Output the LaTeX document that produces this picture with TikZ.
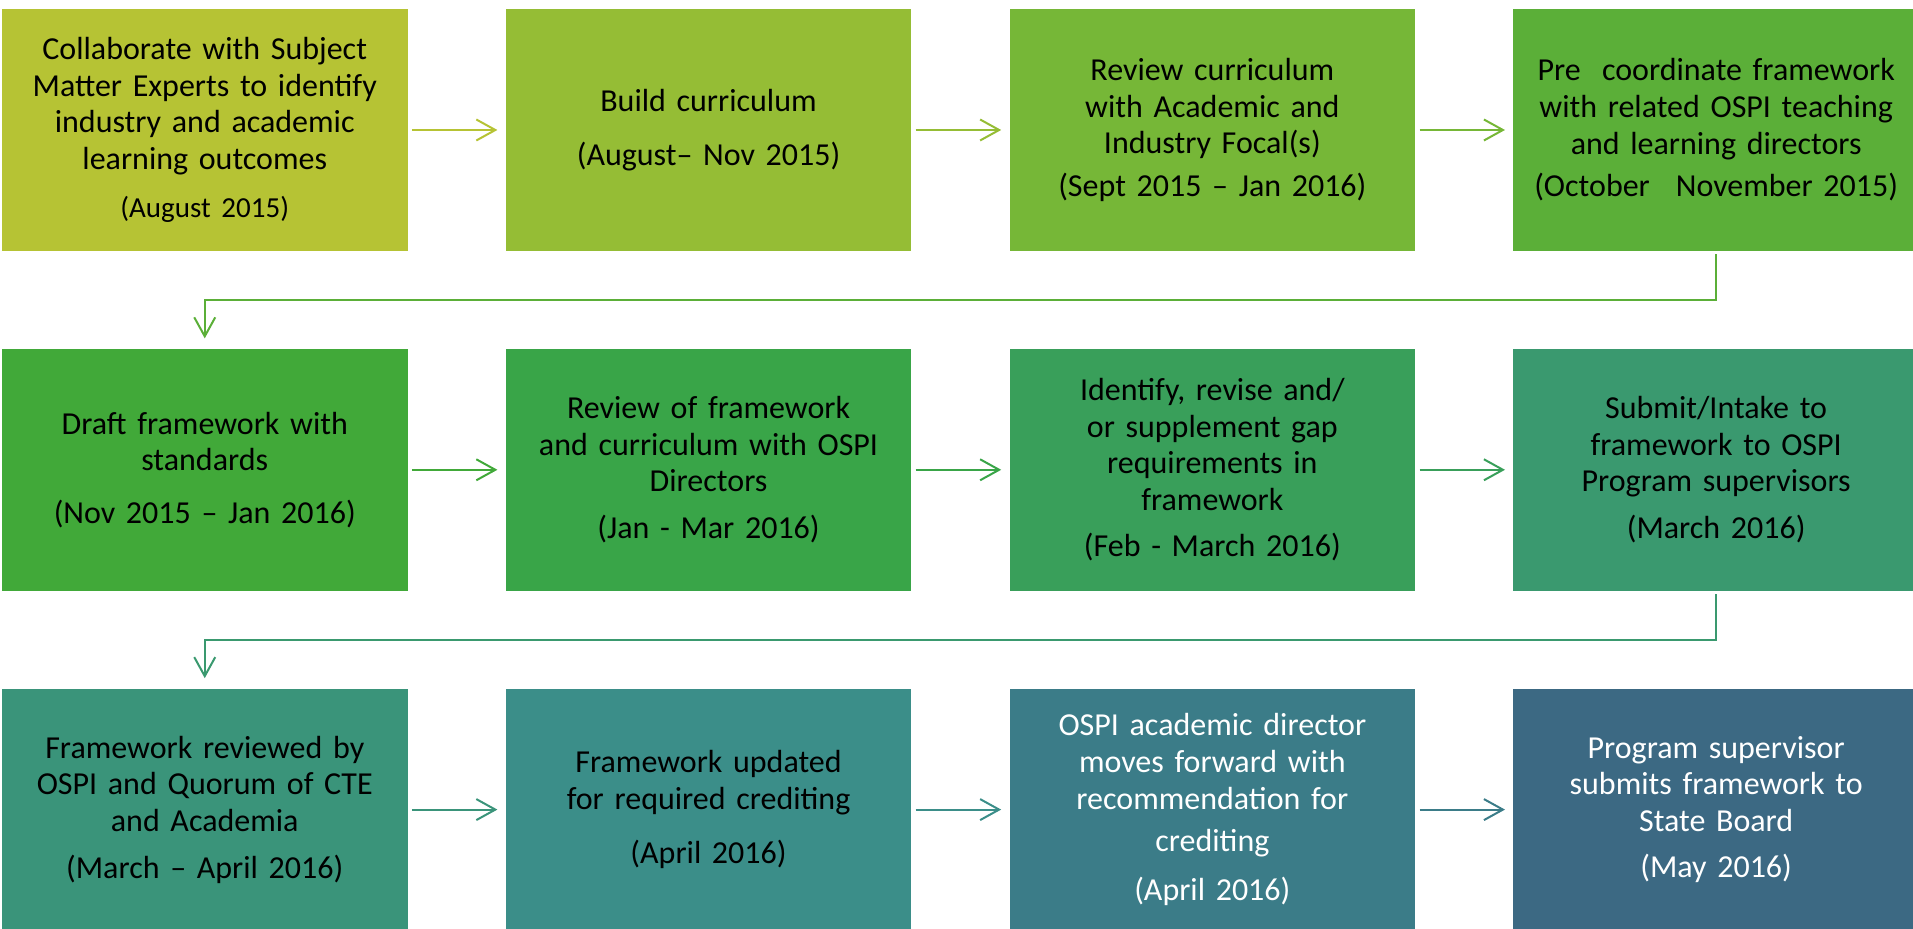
\documentclass[tikz,border=0pt]{standalone}
\usepackage{fontspec}
\setmainfont{Carlito}
\usepackage{xcolor}
\usepackage{tikz}
\usetikzlibrary{positioning,arrows.meta}
\definecolor{toneA}{HTML}{B6C334}
\definecolor{toneB}{HTML}{95BD35}
\definecolor{toneC}{HTML}{76B737}
\definecolor{toneD}{HTML}{5BAF38}
\definecolor{toneE}{HTML}{41A939}
\definecolor{toneF}{HTML}{39A548}
\definecolor{toneG}{HTML}{399F5A}
\definecolor{toneH}{HTML}{3A996F}
\definecolor{toneI}{HTML}{3A947A}
\definecolor{toneJ}{HTML}{3B8E89}
\definecolor{toneK}{HTML}{3B7C88}
\definecolor{toneL}{HTML}{3C6983}

\begin{document}
\begin{tikzpicture}[
    node distance=48.5pt and 48.75pt,
    stage/.style={rectangle, inner sep=4pt,
                  minimum width=202.75pt, minimum height=121pt,
                  text width=192pt, align=center,
                  font=\fontsize{16pt}{18.3pt}\selectfont},
    flow/.style={-{Straight Barb[length=9.5pt,width=10.5pt]}, line width=1pt,
                 shorten <=2pt, shorten >=4pt},
    turn/.style={flow, shorten <=1.5pt, shorten >=5pt}
]
\useasboundingbox (-102.375pt,65pt) rectangle (854.125pt,-399.5pt);

% first row
\node[stage, fill=toneA] (collab) {Collaborate with Subject\\Matter Experts to identify\\industry and academic\\learning outcomes\\[6pt]{\fontsize{14.5pt}{17pt}\selectfont (August 2015)}};
\node[stage, fill=toneB, right=of collab] (build) {Build curriculum\\[9pt](August-- Nov 2015)};
\node[stage, fill=toneC, right=of build] (review) {Review curriculum\\with Academic and\\Industry Focal(s)\\[3pt](Sept 2015 -- Jan 2016)};
\node[stage, fill=toneD, right=of review] (precoord) {Pre\ \ coordinate framework\\with related OSPI teaching\\and learning directors\\[3pt](October\hspace{13pt}November 2015)};

% second row
\node[stage, fill=toneE, below=of collab] (draft) {Draft framework with\\standards\\[8pt](Nov 2015 -- Jan 2016)};
\node[stage, fill=toneF, right=of draft] (fwreview) {Review of framework\\and curriculum with OSPI\\Directors\\[5pt](Jan - Mar 2016)};
\node[stage, fill=toneG, right=of fwreview] (gaps) {Identify, revise and/\\or supplement gap\\requirements in\\framework\\[5pt](Feb - March 2016)};
\node[stage, fill=toneH, right=of gaps] (intake) {Submit/Intake to\\framework to OSPI\\Program supervisors\\[5pt](March 2016)};

% third row
\node[stage, fill=toneI, below=of draft] (quorum) {Framework reviewed by\\OSPI and Quorum of CTE\\and Academia\\[5pt](March -- April 2016)};
\node[stage, fill=toneJ, right=of quorum] (update) {Framework updated\\for required crediting\\[9pt](April 2016)};
\node[stage, fill=toneK, text=white, right=of update] (recommend) {OSPI academic director\\moves forward with\\recommendation for\\[3pt]crediting\\[6pt](April 2016)};
\node[stage, fill=toneL, text=white, right=of recommend] (submit) {Program supervisor\\submits framework to\\State Board\\[5pt](May 2016)};

\draw[flow, toneA] (collab) -- (build);
\draw[flow, toneB] (build) -- (review);
\draw[flow, toneC] (review) -- (precoord);
\draw[turn, toneD] (precoord.south) -- ++(0,-24.25pt) -| (draft.north);

\draw[flow, toneE] (draft) -- (fwreview);
\draw[flow, toneF] (fwreview) -- (gaps);
\draw[flow, toneG] (gaps) -- (intake);
\draw[turn, toneH] (intake.south) -- ++(0,-24.25pt) -| (quorum.north);

\draw[flow, toneI] (quorum) -- (update);
\draw[flow, toneJ] (update) -- (recommend);
\draw[flow, toneK] (recommend) -- (submit);
\end{tikzpicture}
\end{document}
